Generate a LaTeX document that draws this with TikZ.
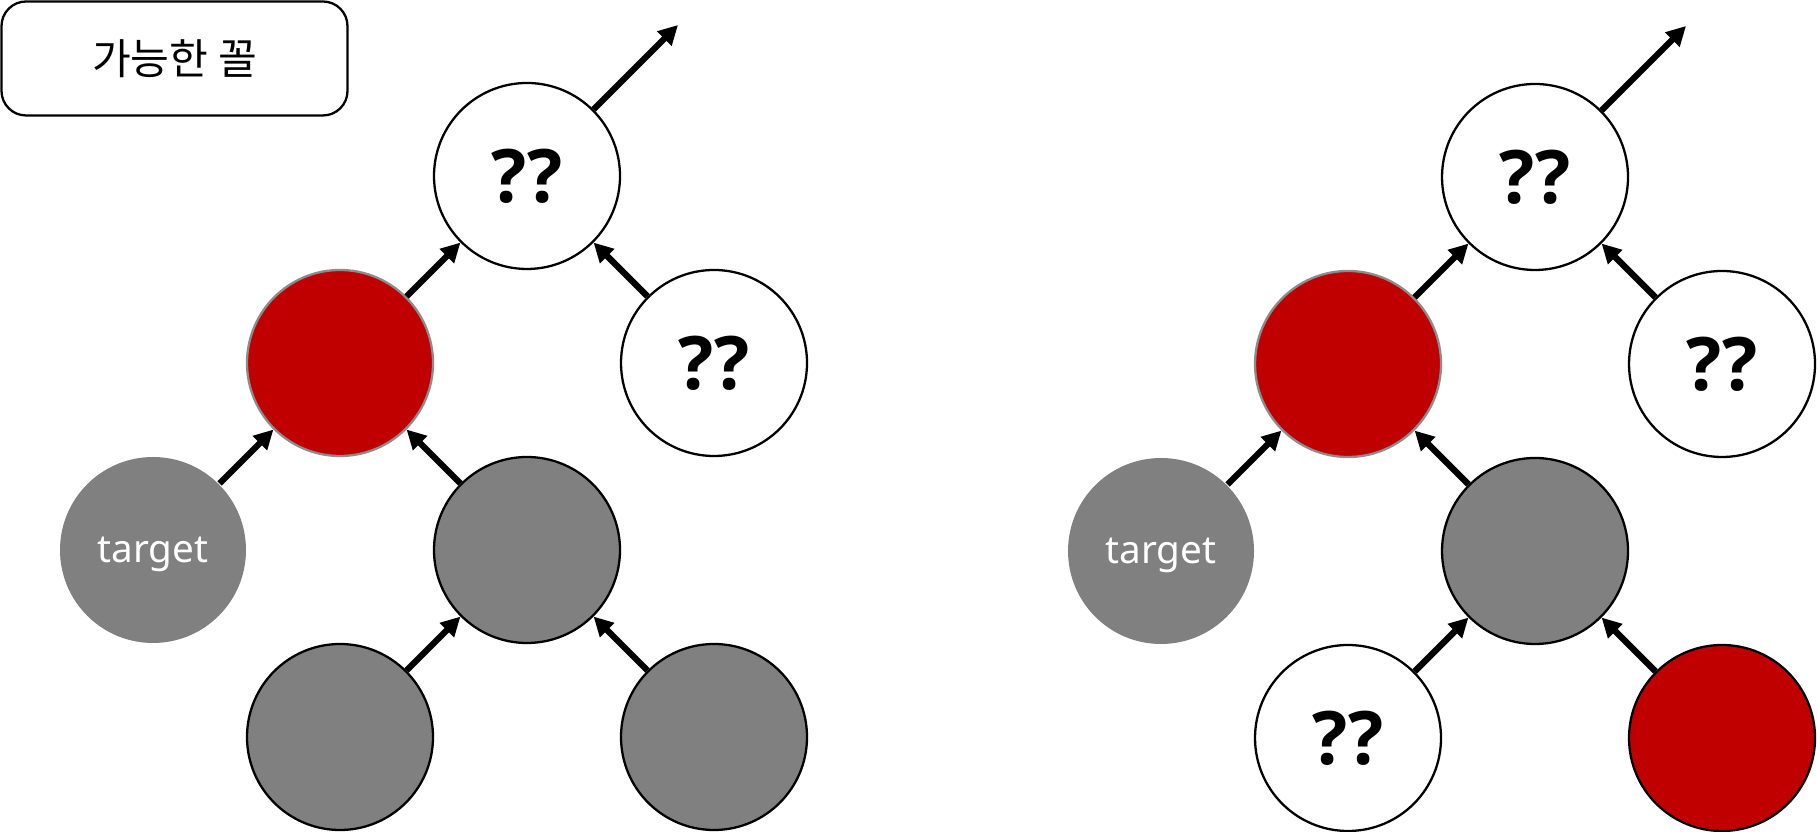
\documentclass[tikz,border=0pt]{standalone}
\usepackage{fontspec}
\setmainfont{Noto Sans}
\newfontfamily\kofont{Noto Sans CJK KR}
\newfontfamily\qfont{Open Sans}
\usetikzlibrary{positioning,arrows.meta}
\definecolor{nodered}{HTML}{C00000}
\definecolor{nodegray}{HTML}{808080}
\tikzset{
    vert/.style={circle,minimum size=18.6mm,inner sep=0pt,line width=0.65pt},
    unknown/.style={vert,draw=black,fill=white,font=\qfont\bfseries\fontsize{21}{24}\selectfont},
    done/.style={vert,draw=black,fill=nodegray},
    hit/.style={vert,draw=black!45,fill=nodered},
    tgt/.style={vert,fill=nodegray,text=white,text depth=0pt,font=\fontsize{11}{13}\selectfont},
    up/.style={draw,-{Triangle[length=5.5pt,width=5.5pt]},line width=1.8pt},
    caption/.style={rounded corners=7pt,draw,line width=0.65pt,minimum width=34.6mm,minimum height=11.4mm,font=\kofont\fontsize{12}{14}\selectfont},
}

\begin{document}
\begin{tikzpicture}[node distance=18.7mm and 18.7mm,on grid]
    \useasboundingbox (0,0) rectangle (18.17,8.32);
    \node[caption] (label) at (1.745,7.735) {가능한 꼴};

    % left tree
    \node[unknown] (ltop) at (5.27,6.56) {??};
    \node[hit,below left=of ltop] (lred) {};
    \node[unknown,below right=of ltop] (lq) {??};
    \node[tgt,below left=of lred] (ltgt) {target};
    \node[done,below right=of lred] (lmid) {};
    \node[done,below left=of lmid] (lbl) {};
    \node[done,below right=of lmid] (lbr) {};
    \coordinate[above right=15.1mm and 15.1mm of ltop] (lout);

    \path
    (ltop) edge[up] (lout)
    (lred) edge[up] (ltop)
    (lq) edge[up] (ltop)
    (ltgt) edge[up] (lred)
    (lmid) edge[up] (lred)
    (lbl) edge[up] (lmid)
    (lbr) edge[up] (lmid);

    % right tree
    \node[unknown] (rtop) at (15.35,6.55) {??};
    \node[hit,below left=of rtop] (rred) {};
    \node[unknown,below right=of rtop] (rq) {??};
    \node[tgt,below left=of rred] (rtgt) {target};
    \node[done,below right=of rred] (rmid) {};
    \node[unknown,below left=of rmid] (rbl) {??};
    \node[hit,draw=black,below right=of rmid] (rbr) {};
    \coordinate[above right=15.1mm and 15.1mm of rtop] (rout);

    \path
    (rtop) edge[up] (rout)
    (rred) edge[up] (rtop)
    (rq) edge[up] (rtop)
    (rtgt) edge[up] (rred)
    (rmid) edge[up] (rred)
    (rbl) edge[up] (rmid)
    (rbr) edge[up] (rmid);
\end{tikzpicture}
\end{document}
